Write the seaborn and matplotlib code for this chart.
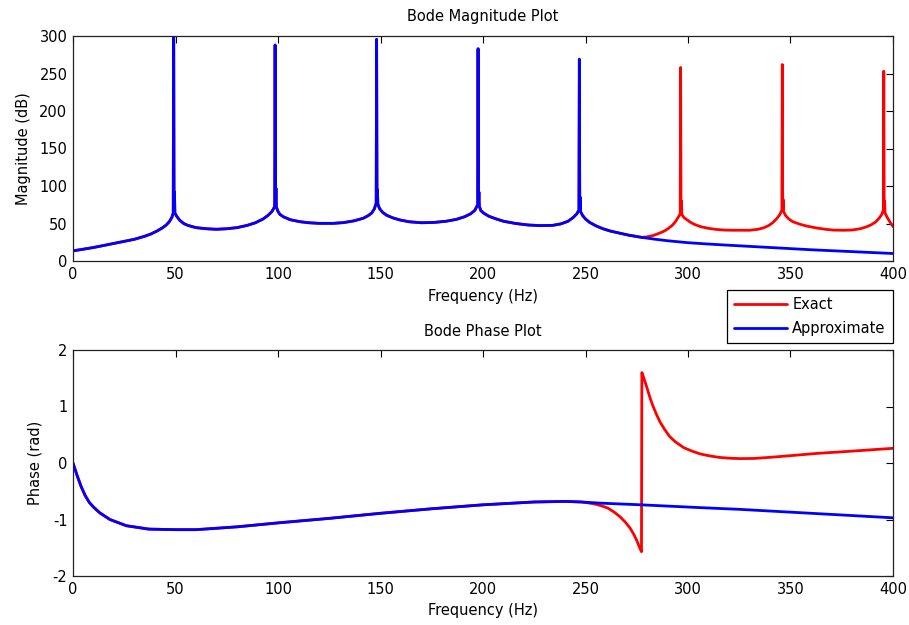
import matplotlib
matplotlib.use("Agg")
import matplotlib.pyplot as plt
import seaborn as sns
import pandas as pd
import numpy as np

# ---------------- data ----------------
# Magnitude, shared part (both curves coincide up to ~277 Hz)
mag_shared_f = [0, 5, 10, 15, 20, 25, 30, 35, 38, 41, 43.5, 45.5, 47, 48.2, 48.9,
                49.1, 49.3, 49.5, 49.7,
                50.5, 52, 54, 56, 60, 65, 70, 75, 80, 85, 89, 92.7, 95, 96.9, 97.8, 98.4,
                98.6, 98.8, 99.0, 99.2,
                100, 101, 102.6, 106, 110.7, 115, 120, 127, 132, 137, 141.6, 144, 145.7,
                147, 147.9,
                148.1, 148.3, 148.5, 148.7,
                149.5, 151, 153, 156, 159.5, 164, 170, 176, 182, 187, 191, 194, 196, 197.4,
                197.6, 197.8, 198.0, 198.2,
                199, 200.5, 203, 206, 210, 216, 222, 228, 234, 238, 241.5, 244, 245.8, 246.8,
                247.0, 247.2, 247.4, 247.6,
                248.5, 250, 252, 255, 258.5, 262, 266, 271, 277.4]
mag_shared_db = [13.5, 15.7, 18, 20.7, 23.5, 26.2, 29, 33, 36, 40, 44, 48, 52.5, 58, 64,
                 340, 66, 92, 64,
                 60, 54.5, 50, 47.5, 44.5, 43, 42.3, 43, 44.5, 47.5, 51, 56, 60.5, 65.5, 69.5, 73,
                 288, 74, 97, 72,
                 66, 62, 59, 55, 52.4, 51, 50.2, 50.2, 51.2, 53.5, 57, 60.5, 64,
                 69.5, 77,
                 295.5, 79, 95, 76,
                 70, 65, 61, 57.5, 54.7, 52.3, 51, 51.4, 53, 55.5, 59, 63, 67.5, 75,
                 283, 75, 92, 73,
                 67, 63.5, 59.5, 56.5, 53, 50, 48, 47.2, 47.5, 49.5, 53, 58, 63, 68,
                 269, 68, 85, 66,
                 61, 56, 51.5, 47, 43, 40, 37.5, 34.5, 31.5]

# Approximate magnitude tail (beyond divergence)
mag_approx_tail_f = [284, 290, 300, 310, 320, 340, 360, 380, 400]
mag_approx_tail_db = [29, 27, 24.4, 22.6, 21, 18, 15, 12.5, 10]

# Exact magnitude tail (beyond divergence)
mag_exact_tail_f = [280, 283, 286, 288.5, 290.5, 292.5, 294, 295.3, 296.2,
                    296.4, 296.6, 296.8, 297.0,
                    298, 299.5, 301, 303, 305.9, 310, 314, 318, 322, 330, 334, 337, 339.5,
                    341.5, 343.3, 344.8, 345.8,
                    346.0, 346.2, 346.4, 346.6,
                    347.5, 349, 351, 354.6, 358, 362.8, 367, 371, 376, 380, 384, 387, 389.5,
                    391.5, 393.2, 394.5, 395.3,
                    395.5, 395.7, 395.9, 396.1,
                    397, 398.5, 400]
mag_exact_tail_db = [32.2, 34, 37, 40, 43.5, 48, 53, 58.5, 63,
                     258, 64, 80, 62,
                     58, 55, 52, 49, 46, 43.5, 42, 41.2, 41, 41, 42.2, 44.3, 47.5,
                     51.5, 56.5, 62, 68,
                     262, 68, 82, 66,
                     61, 56.5, 52.5, 49, 46.5, 44, 42.3, 41.2, 41, 41.3, 43, 45.5, 48.5,
                     52, 57, 62, 68,
                     253, 68, 80, 64,
                     59, 52, 46]

# Phase, shared part
ph_shared_f = [0, 2, 4, 6, 8, 10, 13, 18, 26, 37, 50, 60, 80, 100, 125, 150, 175,
               200, 225, 240, 248]
ph_shared_rad = [0, -0.22, -0.42, -0.58, -0.7, -0.78, -0.88, -1.0, -1.11, -1.17, -1.18,
                 -1.18, -1.13, -1.06, -0.98, -0.89, -0.81, -0.74, -0.69, -0.68, -0.69]

ph_approx_tail_f = [257, 277, 306, 325, 350, 375, 400]
ph_approx_tail_rad = [-0.71, -0.74, -0.79, -0.82, -0.87, -0.92, -0.97]

ph_exact_tail_f = [252, 255, 258, 261, 264, 266.8, 269.5, 271.7, 273.5, 275, 276.2, 277.3,
                   277.5, 278.5, 280, 281.5, 283, 284.5, 286.3, 288.5, 291, 294, 298, 302,
                   306, 310, 315, 320, 325, 332, 340, 350, 363, 380, 400]
ph_exact_tail_rad = [-0.71, -0.73, -0.76, -0.8, -0.87, -0.95, -1.05, -1.15, -1.26, -1.37,
                     -1.48, -1.57,
                     1.6, 1.5, 1.33, 1.15, 1.0, 0.87, 0.73, 0.6, 0.47, 0.37, 0.27, 0.21,
                     0.16, 0.13, 0.1, 0.085, 0.078, 0.08, 0.1, 0.13, 0.17, 0.21, 0.26]

colors = {"Exact": "#ff0000", "Approximate": "#0000ff"}

# ---------------- build tables ----------------
def table(fa, va, fb, vb, name):
    return pd.DataFrame({"f": list(fa) + list(fb), "v": list(va) + list(vb), "series": name})

mag_exact = table(mag_shared_f, mag_shared_db, mag_exact_tail_f, mag_exact_tail_db, "Exact")
mag_approx = table(mag_shared_f, mag_shared_db, mag_approx_tail_f, mag_approx_tail_db, "Approximate")
ph_exact = table(ph_shared_f, ph_shared_rad, ph_exact_tail_f, ph_exact_tail_rad, "Exact")
ph_approx = table(ph_shared_f, ph_shared_rad, ph_approx_tail_f, ph_approx_tail_rad, "Approximate")

# ---------------- figure ----------------
sns.set_style("white")
plt.rcParams["font.family"] = ["DejaVu Sans"]
plt.rcParams["font.size"] = 10.5
plt.rcParams["axes.unicode_minus"] = False
for k in ["text.color", "axes.labelcolor", "xtick.color", "ytick.color"]:
    plt.rcParams[k] = "black"

W, H = 909, 625
fig = plt.figure(figsize=(W / 100, H / 100), dpi=100)
ax1 = fig.add_axes([73 / W, 1 - 261 / H, (893 - 73) / W, (261 - 36) / H])
ax2 = fig.add_axes([73 / W, 1 - 576 / H, (893 - 73) / W, (576 - 350) / H])

lw = 2.0
for ax, dfe, dfa in [(ax1, mag_exact, mag_approx), (ax2, ph_exact, ph_approx)]:
    sns.lineplot(data=dfe, x="f", y="v", ax=ax, color=colors["Exact"], lw=lw,
                 estimator=None, sort=False, label="Exact", legend=False)
    sns.lineplot(data=dfa, x="f", y="v", ax=ax, color=colors["Approximate"], lw=lw,
                 estimator=None, sort=False, label="Approximate", legend=False)
    ax.set_xlim(0, 400)
    ax.set_xticks(np.arange(0, 401, 50))
    ax.set_xlabel("Frequency (Hz)", fontsize=10.5, labelpad=5)
    ax.tick_params(direction="in", top=True, right=True, length=5, width=0.8,
                   labelsize=10.5, colors="black", pad=4)
    for s in ax.spines.values():
        s.set_color("#222222")
        s.set_linewidth(0.9)

ax1.set_ylim(0, 300)
ax1.set_yticks(np.arange(0, 301, 50))
ax1.set_ylabel("Magnitude (dB)", fontsize=10.5, labelpad=6)
ax1.set_title("Bode Magnitude Plot", fontsize=10.5, pad=11)

ax2.set_ylim(-2, 2)
ax2.set_yticks([-2, -1, 0, 1, 2])
ax2.set_ylabel("Phase (rad)", fontsize=10.5, labelpad=7)
ax2.set_title("Bode Phase Plot", fontsize=10.5, pad=10)

handles, labs = ax2.get_legend_handles_labels()
leg = fig.legend(handles, labs, loc="upper right",
                 bbox_to_anchor=(893 / W, 1 - 290 / H), bbox_transform=fig.transFigure,
                 fancybox=False, framealpha=1, edgecolor="black", fontsize=10.5,
                 handlelength=3.6, handletextpad=0.4, labelspacing=0.6,
                 borderpad=0.5, borderaxespad=0)
leg.get_frame().set_linewidth(0.9)

fig.savefig("out.png", dpi=100, facecolor="white")
